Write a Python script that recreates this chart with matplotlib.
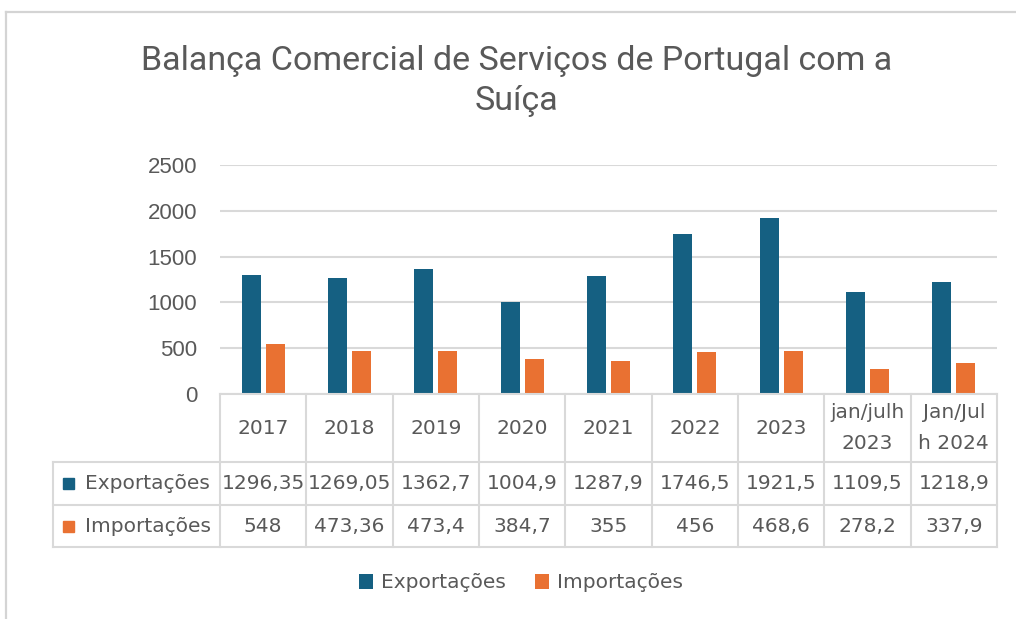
import numpy as np
import matplotlib
matplotlib.use('Agg')
import matplotlib.pyplot as plt
from matplotlib import font_manager as fm
from matplotlib.patches import Rectangle
from matplotlib.lines import Line2D

# ---- data -------------------------------------------------------------
categories = ['2017', '2018', '2019', '2020', '2021', '2022', '2023',
              'jan/julh\n2023', 'Jan/Jul\nh 2024']
exportacoes = [1296.35, 1269.05, 1362.7, 1004.9, 1287.9, 1746.5, 1921.5, 1109.5, 1218.9]
importacoes = [548, 473.36, 473.4, 384.7, 355, 456, 468.6, 278.2, 337.9]
series_names = ['Exportações', 'Importações']
y_ticks = [0, 500, 1000, 1500, 2000, 2500]
title_lines = ['Balança Comercial de Serviços de Portugal com a', 'Suíça']

# ---- style ------------------------------------------------------------
BLUE = '#156082'
ORANGE = '#E97132'
TEXT = '#595959'
GRID = '#D9D9D9'
FRAME = '#D4D4D4'


def pick_font(names):
    for name in names:
        try:
            fm.findfont(fm.FontProperties(family=name), fallback_to_default=False)
            return name
        except Exception:
            continue
    return 'DejaVu Sans'


TITLE_FONT = pick_font(['Roboto', 'Liberation Sans'])
TICK_FONT = pick_font(['Liberation Sans', 'Arial', 'DejaVu Sans'])
TABLE_FONT = 'DejaVu Sans'
TABLE_SIZE = 14.5

W, H = 1016, 619
fig = plt.figure(figsize=(W / 100, H / 100), dpi=100)
fig.patch.set_facecolor('white')


def fx(px):
    return px / W


def fy(py):
    return 1 - py / H


# ---- plot area --------------------------------------------------------
L, R, T, B = 220, 997, 165, 394
n = len(categories)
x = np.arange(n)
ax = fig.add_axes([fx(L), fy(B), (R - L) / W, (B - T) / H])
bars_exp = ax.bar(x - 0.14, exportacoes, 0.22, color=BLUE, zorder=3, label=series_names[0])
bars_imp = ax.bar(x + 0.14, importacoes, 0.22, color=ORANGE, zorder=3, label=series_names[1])
ax.set_xlim(-0.5, n - 0.5)
ax.set_ylim(0, y_ticks[-1])
ax.set_yticks(y_ticks)
ax.set_yticklabels([str(v) for v in y_ticks], fontfamily=TICK_FONT)
ax.tick_params(axis='y', length=0, pad=16.5, labelsize=16, labelcolor=TEXT)
ax.set_xticks([])
for s in ax.spines.values():
    s.set_visible(False)
ax.grid(axis='y', color=GRID, lw=1.5, zorder=0)
ax.set_axisbelow(True)

# ---- data table under the bars -----------------------------------------
TL, TB = 53, 547
unit = (R - L) / n
tab = fig.add_axes([fx(TL), fy(TB), (R - TL) / W, (TB - B) / H])
x0 = -0.5 - (L - TL) / unit
tab.set_xlim(x0, n - 0.5)
tab.set_ylim(TB - B, 0)
tab.axis('off')
rows = [0, 68, 111, 153]
line_kw = dict(color=GRID, lw=1.5, clip_on=False, solid_capstyle='projecting', zorder=1)
tab.plot([-0.5, n - 0.5], [0, 0], **line_kw)
for yv in rows[1:]:
    tab.plot([x0, n - 0.5], [yv, yv], **line_kw)
tab.plot([x0, x0], [rows[1], rows[3]], **line_kw)
for i in range(n + 1):
    tab.plot([i - 0.5, i - 0.5], [0, rows[3]], **line_kw)

txt_kw = dict(ha='center', va='center', fontsize=TABLE_SIZE, color=TEXT, family=TABLE_FONT)
for i, cat in enumerate(categories):
    tab.text(i, (rows[0] + rows[1]) / 2, cat, linespacing=1.8, **txt_kw)


def fmt(v):
    return f'{v:g}'.replace('.', ',')


series = [(series_names[0], exportacoes, BLUE), (series_names[1], importacoes, ORANGE)]
for r, (name, vals, col) in enumerate(series):
    yc = (rows[r + 1] + rows[r + 2]) / 2
    tab.add_patch(Rectangle((x0 + 10 / unit, yc - 5.5), 11 / unit, 11,
                            color=col, clip_on=False, zorder=2))
    tab.text(x0 + 32 / unit, yc, name, ha='left', va='center',
             fontsize=TABLE_SIZE, color=TEXT, family=TABLE_FONT)
    for i, v in enumerate(vals):
        tab.text(i, yc, fmt(v), **txt_kw)

# ---- legend -------------------------------------------------------------
fig.legend(handles=[bars_exp, bars_imp], labels=series_names, loc='center',
           bbox_to_anchor=(fx(521), fy(583)), ncol=2, frameon=False,
           prop=dict(family=TABLE_FONT, size=TABLE_SIZE), labelcolor=TEXT,
           handlelength=0.7, handleheight=0.7, handletextpad=0.4,
           columnspacing=1.4)

# ---- title ----------------------------------------------------------------
t1 = fig.text(fx(516.5), fy(70), title_lines[0], ha='center', va='baseline',
              fontsize=22, color=TEXT, family=TITLE_FONT)
t2 = fig.text(fx(516.5), fy(110), title_lines[1], ha='center', va='baseline',
              fontsize=22, color=TEXT, family=TITLE_FONT)
fig.canvas.draw()
w = t1.get_window_extent(fig.canvas.get_renderer()).width
size = min(22 * 777 / w, 24.5)
t1.set_fontsize(size)
t2.set_fontsize(size)

# ---- chart frame ------------------------------------------------------------
fig.add_artist(Line2D([fx(6), fx(6)], [fy(12), 0], color=FRAME, lw=1.6))
fig.add_artist(Line2D([fx(6), 1], [fy(12), fy(12)], color=FRAME, lw=1.6))

fig.savefig('out.png', dpi=100, facecolor='white')
